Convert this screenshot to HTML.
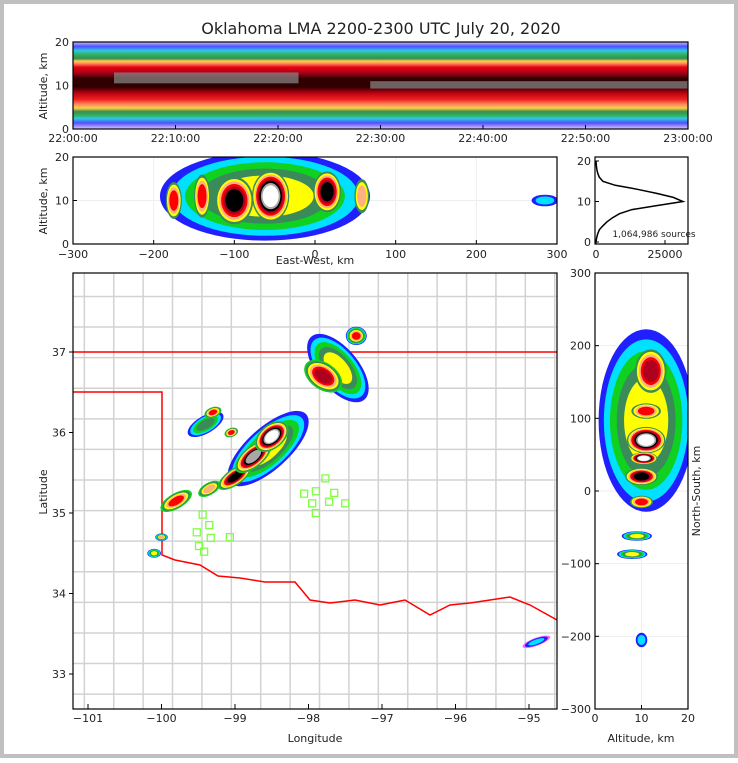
<!DOCTYPE html>
<html><head><meta charset="utf-8"><style>
html,body{margin:0;padding:0;background:#fff}
body{width:738px;height:758px;overflow:hidden}
svg text{font-family:"DejaVu Sans","Liberation Sans",sans-serif;fill:#222}
</style></head><body>
<svg id="fig" width="738" height="758" xmlns="http://www.w3.org/2000/svg">
<defs>
<linearGradient id="tg" x1="0" y1="0" x2="0" y2="1">
<stop offset="0" stop-color="#c8c0ff"/><stop offset="0.05" stop-color="#5050ff"/>
<stop offset="0.10" stop-color="#30c8e0"/><stop offset="0.15" stop-color="#30b050"/>
<stop offset="0.19" stop-color="#3a8a5a"/><stop offset="0.22" stop-color="#ffd040"/>
<stop offset="0.25" stop-color="#ff8060"/><stop offset="0.29" stop-color="#e80010"/>
<stop offset="0.36" stop-color="#a00018"/><stop offset="0.42" stop-color="#300000"/>
<stop offset="0.52" stop-color="#300000"/><stop offset="0.58" stop-color="#b00010"/>
<stop offset="0.66" stop-color="#f02020"/><stop offset="0.72" stop-color="#ff9060"/>
<stop offset="0.76" stop-color="#ffd040"/><stop offset="0.80" stop-color="#3a8a5a"/>
<stop offset="0.84" stop-color="#30b050"/><stop offset="0.88" stop-color="#30c8e0"/>
<stop offset="0.93" stop-color="#5050ff"/><stop offset="1" stop-color="#e0c8ff"/>
</linearGradient>
<clipPath id="c1"><rect x="73" y="42" width="615" height="87"/></clipPath>
<clipPath id="c2"><rect x="73" y="157" width="484" height="87"/></clipPath>
<clipPath id="c3"><rect x="73" y="273" width="484" height="436"/></clipPath>
<clipPath id="c4"><rect x="595" y="273" width="93" height="436"/></clipPath>
</defs>
<rect x="0" y="0" width="738" height="758" fill="#c0c0c0"/>
<rect x="4" y="4" width="730" height="750" fill="#fff"/>
<text x="381" y="34" font-size="16" text-anchor="middle">Oklahoma LMA 2200-2300 UTC July 20, 2020</text>
<g id="top" clip-path="url(#c1)"></g>
<g id="ew" clip-path="url(#c2)"></g>
<g id="hist"></g>
<g id="map" clip-path="url(#c3)"></g>
<g id="ns" clip-path="url(#c4)"></g>
<g id="axes"></g>
</svg>
<script>
// ---- data ----
const timeTicks=['22:00:00','22:10:00','22:20:00','22:30:00','22:40:00','22:50:00','23:00:00'];
const altTicks=[0,10,20];
const ewTicks=[-300,-200,-100,0,100,200,300];
const nsTicks=[-300,-200,-100,0,100,200,300];
const lonTicks=[-101,-100,-99,-98,-97,-96,-95];
const latTicks=[33,34,35,36,37];
const histAlt=[0,1,2,3,4,5,6,7,8,9,10,11,12,13,14,15,16,17,18,19,20];
const histCount=[0,200,600,1200,2500,4000,6000,8500,13000,22000,31500,28000,22000,15000,7000,2500,1200,600,300,100,0];
// gray core band in time-height: [startMin,endMin,lowKm,highKm]
const coreBands=[[4,22,10.5,13],[29,60,9.3,11]];
// ew blobs: x km, alt km, rx km, ry km, level, startLevel
const ewBlobs=[[-62,11,140,11,6,1],[-175,10,14,6,8,4],[-140,11,14,7,8,4],[-100,10,30,7,10,4],[-55,11,28,7,12,4],[15,12,22,6,10,4],[58,11,14,6,7,4],[285,10,20,1.6,3,1]];
// ns blobs: alt km, ns km, rx km, ry km, level, startLevel
const nsBlobs=[[11,97,11,135,6,1],[12,165,4.5,40,9,4],[11,110,4.5,15,8,4],[11,70,5,22,12,4],[10.5,45,3.5,10,12,4],[10,20,4.5,15,10,4],[10,-15,3.5,12,8,4],[9,-62,3.5,7,6,1],[8,-87,3.5,7,6,1],[10,-205,1.5,12,3,1]];
// map blobs: lon, lat, rx deg, ry deg, rotation, level, startLevel
const mapBlobs=[[-98.55,35.8,0.75,0.28,-42,6,1],[-97.6,36.8,0.3,0.55,-40,6,1],[-99.4,36.1,0.3,0.12,-30,5,1],[-99.8,35.15,0.3,0.12,-30,8,3],[-99.35,35.3,0.22,0.1,-30,7,3],[-99.0,35.45,0.32,0.12,-35,10,3],[-98.75,35.7,0.35,0.15,-40,11,3],[-98.5,35.95,0.3,0.17,-40,12,3],[-97.8,36.7,0.22,0.32,-55,9,3],[-97.35,37.2,0.15,0.12,0,8,1],[-99.3,36.25,0.15,0.08,-20,8,3],[-99.05,36.0,0.12,0.07,-20,8,3],[-100.0,34.7,0.09,0.05,0,7,1],[-100.1,34.5,0.1,0.06,0,6,1],[-94.9,33.4,0.2,0.05,-20,3,0]];
const stationLon=[-97.77,-97.90,-98.06,-97.65,-97.95,-97.72,-97.50,-97.90,-99.44,-99.35,-99.52,-99.33,-99.07,-99.49,-99.42];
const stationLat=[35.43,35.27,35.24,35.25,35.12,35.14,35.12,35.0,34.98,34.85,34.76,34.69,34.70,34.59,34.52];
// ---- scales ----
const NS='http://www.w3.org/2000/svg';
function mk(tag,at,parent){const e=document.createElementNS(NS,tag);for(const k in at)e.setAttribute(k,at[k]);parent.appendChild(e);return e;}
const tX=m=>73+m/60*615, tY=a=>129-a/20*87;
const ewX=k=>315+k*484/600, ewY=a=>244-a/20*87;
const hX=c=>596+c*2.76/1000, hY=a=>242-a*4.05;
const mX=l=>88+(l+101)*73.5, mY=l=>352+(37-l)*80.5;
const nsX=a=>595+a*93/20, nsY=k=>491-k*436/600;
const pal=['#ff66ff','#2020ff','#00e0ff','#10d020','#3a8a5a','#ffff00','#ffb080','#ff0000','#b00020','#000000','#a8a8a8','#ffffff'];
function blob(g,cx,cy,rx,ry,rot,lvl,start){
  for(let k=start;k<lvl;k++){const f=1-0.72*Math.pow(k/lvl,1.3);
    const e=mk('ellipse',{cx:cx,cy:cy,rx:Math.max(rx*f,1),ry:Math.max(ry*f,1),fill:pal[k],transform:`rotate(${rot} ${cx} ${cy})`},g);
    
    }
}
const T=document.getElementById('top'),E=document.getElementById('ew'),H=document.getElementById('hist'),M=document.getElementById('map'),N=document.getElementById('ns'),A=document.getElementById('axes');
// top panel
mk('rect',{x:73,y:tY(20),width:615,height:87,fill:'url(#tg)'},T);
coreBands.forEach(b=>{const r=mk('rect',{x:tX(b[0]),y:tY(b[3]),width:tX(b[1])-tX(b[0]),height:tY(b[2])-tY(b[3]),fill:'#8a8a8a',opacity:0.7},T);
 });
// ew panel
[-200,-100,0,100,200].forEach(v=>mk('line',{x1:ewX(v),x2:ewX(v),y1:157,y2:244,stroke:'#eee'},E));
mk('line',{x1:73,x2:557,y1:ewY(10),y2:ewY(10),stroke:'#eee'},E);
ewBlobs.forEach(b=>blob(E,ewX(b[0]),ewY(b[1]),b[2]*484/600,b[3]*87/20,0,b[4],b[5]));
// hist
let d='';histAlt.forEach((a,i)=>{d+=(i?'L':'M')+hX(histCount[i]).toFixed(1)+' '+hY(a).toFixed(1);});
const hp=mk('path',{d:d,fill:'none',stroke:'#000','stroke-width':1.5},H);

const st=mk('text',{x:654,y:237,'font-size':9,'text-anchor':'middle'},H);st.textContent='1,064,986 sources';

// map counties (grid approximation)
const cg=mk('g',{stroke:'#d2d2d2','stroke-width':1.5,fill:'none'},M);
for(let lon=-101.05;lon<-94.5;lon+=0.4)mk('line',{x1:mX(lon),x2:mX(lon),y1:273,y2:709},cg);
for(let lat=32.75;lat<38;lat+=0.38)mk('line',{x1:73,x2:557,y1:mY(lat),y2:mY(lat)},cg);
// borders
const rb=mk('path',{d:'M73 352 L557 352 M73 392 L162 392 L162 555 L175 560 L200 565 L218 576 L240 578 L265 582 L295 582 L310 600 L330 603 L355 600 L380 605 L405 600 L430 615 L450 605 L470 603 L490 600 L510 597 L530 605 L557 620',stroke:'#f00','stroke-width':1.5,fill:'none'},M);

mapBlobs.forEach(b=>blob(M,mX(b[0]),mY(b[1]),b[2]*73.5,b[3]*80.5,b[4],b[5],b[6]));
stationLon.forEach((l,i)=>{const s=mk('rect',{x:mX(l)-3.5,y:mY(stationLat[i])-3.5,width:7,height:7,fill:'none',stroke:'#7fff40','stroke-width':1.3},M);
 });
// ns panel
[-200,-100,0,100,200].forEach(v=>mk('line',{x1:595,x2:688,y1:nsY(v),y2:nsY(v),stroke:'#eee'},N));
mk('line',{x1:nsX(10),x2:nsX(10),y1:273,y2:709,stroke:'#eee'},N);
nsBlobs.forEach(b=>blob(N,nsX(b[0]),nsY(b[1]),b[2]*93/20,b[3]*436/600,0,b[4],b[5]));
// axes frames & ticks
function frame(x,y,w,h,name){const r=mk('rect',{x:x,y:y,width:w,height:h,fill:'none',stroke:'#000','stroke-width':1.2},A);}
frame(73,42,615,87,'time-height-frame');frame(73,157,484,87,'east-west-frame');frame(595,157,93,87,'histogram-frame');frame(73,273,484,436,'map-frame');frame(595,273,93,436,'north-south-frame');
function txt(x,y,s,fs,anch,rot,name){const t=mk('text',{x:x,y:y,'font-size':fs,'text-anchor':anch||'middle'},A);if(rot)t.setAttribute('transform',`rotate(${rot} ${x} ${y})`);t.textContent=s;return t;}
function tk(x1,y1,x2,y2){mk('line',{x1:x1,y1:y1,x2:x2,y2:y2,stroke:'#000'},A);}
timeTicks.forEach((s,i)=>{const x=tX(i*10);tk(x,129,x,125);txt(x,142,s,11,'middle',0,'x-tick-label');});
altTicks.forEach(a=>{tk(73,tY(a),77,tY(a));txt(69,tY(a)+4,a,11,'end',0,'y-tick-label');});
txt(47,86,'Altitude, km',11,'middle',-90,'y-axis-title');
ewTicks.forEach(v=>{tk(ewX(v),244,ewX(v),240);txt(ewX(v),258,String(v).replace('-','−'),11,'middle',0,'x-tick-label');});
altTicks.forEach(a=>{tk(73,ewY(a),77,ewY(a));txt(69,ewY(a)+4,a,11,'end',0,'y-tick-label');});
txt(47,201,'Altitude, km',11,'middle',-90,'y-axis-title');
txt(315,264,'East-West, km',11,'middle',0,'x-axis-title');
[0,10,20].forEach(a=>{tk(595,hY(a),599,hY(a));txt(591,hY(a)+4,a,11,'end',0,'y-tick-label');});
[0,25000].forEach(c=>{tk(hX(c),244,hX(c),240);txt(hX(c),258,c,11,'middle',0,'x-tick-label');});
lonTicks.forEach(l=>{tk(mX(l),709,mX(l),704);txt(mX(l),722,String(l).replace('-','−'),11,'middle',0,'x-tick-label');});
latTicks.forEach(l=>{tk(73,mY(l),69,mY(l));txt(66,mY(l)+4,l,11,'end',0,'y-tick-label');});
txt(315,742,'Longitude',11,'middle',0,'x-axis-title');
txt(47,492,'Latitude',11,'middle',-90,'y-axis-title');
nsTicks.forEach(v=>{tk(595,nsY(v),599,nsY(v));txt(591,nsY(v)+4,String(v).replace('-','−'),11,'end',0,'y-tick-label');});
[0,10,20].forEach(a=>{tk(nsX(a),709,nsX(a),705);txt(nsX(a),722,a,11,'middle',0,'x-tick-label');});
txt(641,742,'Altitude, km',11,'middle',0,'x-axis-title');
txt(700,491,'North-South, km',11,'middle',-90,'y-axis-title');
</script>
</body></html>
